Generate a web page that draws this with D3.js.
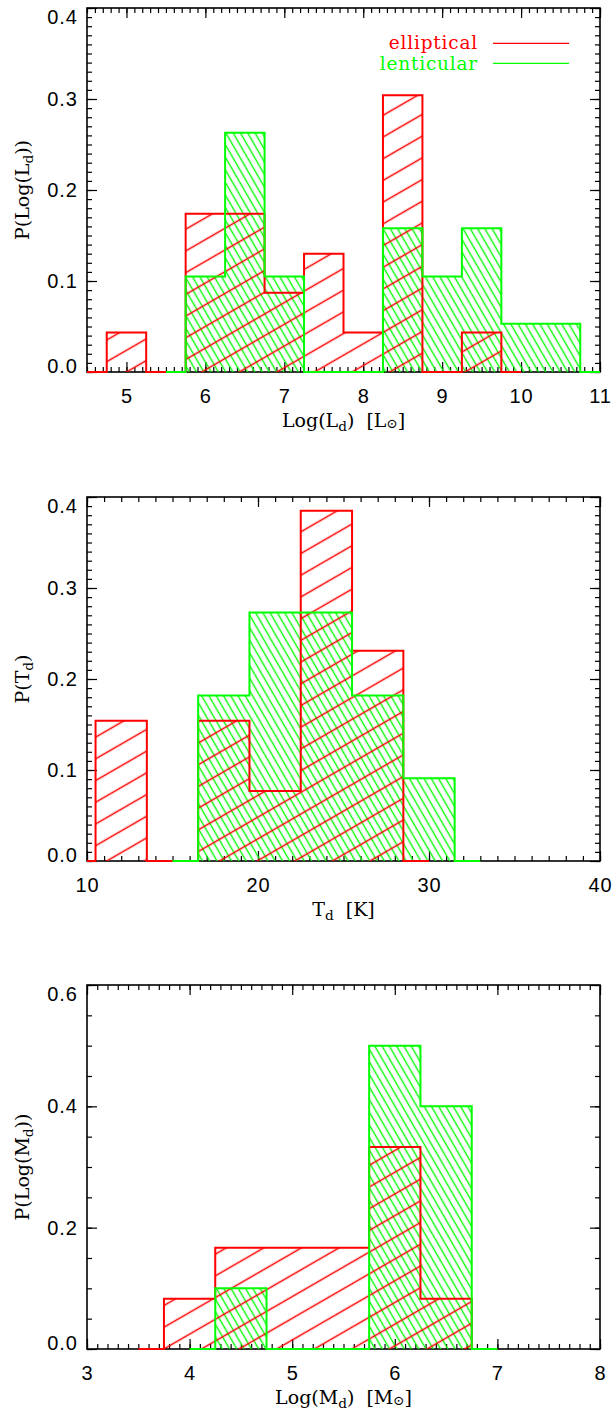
<!DOCTYPE html>
<html><head><meta charset="utf-8">
<script src="https://cdn.jsdelivr.net/npm/d3@7"></script>
<style>body{margin:0;background:#fff}svg{display:block}</style>
</head><body><div id="chart"></div>
<script>
// ---------- data (bin centres and probabilities) ----------
const ldEllipticalCenters = [4.5, 5.0, 5.5, 6.0, 6.5, 7.0, 7.5, 8.0, 8.5, 9.0, 9.5, 10.0];
const ldEllipticalValues  = [0, 0.0435, 0, 0.174, 0.174, 0.087, 0.130, 0.0435, 0.304, 0, 0.0435, 0];
const ldLenticularCenters = [5.5, 6.0, 6.5, 7.0, 7.5, 8.0, 8.5, 9.0, 9.5, 10.0, 10.5, 11.0];
const ldLenticularValues  = [0, 0.105, 0.263, 0.105, 0, 0, 0.158, 0.105, 0.158, 0.053, 0.053, 0];

const tdEllipticalCenters = [9, 12, 15, 18, 21, 24, 27, 30];
const tdEllipticalValues  = [0, 0.154, 0, 0.154, 0.077, 0.385, 0.231, 0];
const tdLenticularCenters = [15, 18, 21, 24, 27, 30, 33];
const tdLenticularValues  = [0, 0.182, 0.273, 0.273, 0.182, 0.091, 0];

const mdEllipticalCenters = [3.5, 4.0, 4.5, 5.0, 5.5, 6.0, 6.5, 7.0];
const mdEllipticalValues  = [0, 0.083, 0.167, 0.167, 0.167, 0.333, 0.083, 0];
const mdLenticularCenters = [4.0, 4.5, 5.0, 5.5, 6.0, 6.5, 7.0];
const mdLenticularValues  = [0, 0.1, 0, 0, 0.5, 0.4, 0];

const ldXTicks = [5, 6, 7, 8, 9, 10, 11];
const tdXTicks = [10, 20, 30, 40];
const mdXTicks = [3, 4, 5, 6, 7, 8];
const ldYTicks = [0, 0.1, 0.2, 0.3, 0.4];
const tdYTicks = [0, 0.1, 0.2, 0.3, 0.4];
const mdYTicks = [0, 0.2, 0.4, 0.6];

const legendLabels = ["elliptical", "lenticular"];

// ---------- layout ----------
const W = 614, H = 1414, L = 87, R = 600;
const RED = "#ff0000", GREEN = "#00ff00";
const SANS = "'Liberation Sans', Arial, sans-serif";
const SERIF = "'DejaVu Serif', serif";
const SP = "\u00a0\u00a0";

const svg = d3.select("#chart").append("svg").attr("width", W).attr("height", H)
  .style("background", "#fff");
const defs = svg.append("defs");

function hatch(id, color, angle, spacing, offset, sw) {
  const p = defs.append("pattern").attr("id", id)
    .attr("patternUnits", "userSpaceOnUse")
    .attr("width", 60).attr("height", spacing)
    .attr("patternTransform", `rotate(${angle})`);
  p.append("line").attr("x1", -5).attr("x2", 65)
    .attr("y1", offset).attr("y2", offset)
    .attr("stroke", color).attr("stroke-width", sw);
}
hatch("hRed", RED, -30, 18.8, 9.4, 1.3);
hatch("hGreen", GREEN, 60, 6.3, 3.15, 1.2);

const panels = [
  { top: 8, bottom: 372, xDomain: [4.5, 11], xTicks: ldXTicks, xMinor: 0.1,
    yDomain: [0, 0.4], yTicks: ldYTicks, yMinor: 0.01,
    ell: [ldEllipticalCenters, ldEllipticalValues], len: [ldLenticularCenters, ldLenticularValues],
    xTitle: [["Log(L",0],["d",1],[")" + SP + "[L",0],["\u2299",2],["]",0]],
    yTitle: [["P(Log(L",0],["d",1],["))",0]], legend: true },
  { top: 497, bottom: 861, xDomain: [10, 40], xTicks: tdXTicks, xMinor: 1,
    yDomain: [0, 0.4], yTicks: tdYTicks, yMinor: 0.01,
    ell: [tdEllipticalCenters, tdEllipticalValues], len: [tdLenticularCenters, tdLenticularValues],
    xTitle: [["T",0],["d",1],[SP + "[K]",0]],
    yTitle: [["P(T",0],["d",1],[")",0]] },
  { top: 985, bottom: 1349, xDomain: [3, 8], xTicks: mdXTicks, xMinor: 0.1,
    yDomain: [0, 0.6], yTicks: mdYTicks, yMinor: 0.05,
    ell: [mdEllipticalCenters, mdEllipticalValues], len: [mdLenticularCenters, mdLenticularValues],
    xTitle: [["Log(M",0],["d",1],[")" + SP + "[M",0],["\u2299",2],["]",0]],
    yTitle: [["P(Log(M",0],["d",1],["))",0]] }
];

function rangeStep(d0, d1, step) {
  const n = Math.round((d1 - d0) / step);
  return d3.range(n + 1).map(i => d0 + i * step);
}

function addRich(textSel, parts, size) {
  let shift = 0;
  parts.forEach(([t, kind]) => {
    const target = kind === 1 ? 0.22 * size : kind === 2 ? 0.05 * size : 0;
    const ts = textSel.append("tspan").text(t).attr("dy", target - shift);
    if (kind === 1) ts.attr("font-size", size * 0.72);
    if (kind === 2) ts.attr("font-size", size * 0.7);
    shift = target;
  });
}

// IDL psym=10 style step outline
function stepPoints(x, y, cs, vs) {
  const pts = [];
  const n = cs.length;
  for (let i = 0; i < n; i++) {
    const a = i === 0 ? cs[0] : (cs[i - 1] + cs[i]) / 2;
    const b = i === n - 1 ? cs[n - 1] : (cs[i] + cs[i + 1]) / 2;
    pts.push([x(a), y(vs[i])], [x(b), y(vs[i])]);
  }
  return pts;
}

panels.forEach((p, pi) => {
  const x = d3.scaleLinear().domain(p.xDomain).range([L, R]);
  const y = d3.scaleLinear().domain(p.yDomain).range([p.bottom, p.top]);
  const g = svg.append("g");

  const clipId = "clip" + pi;
  defs.append("clipPath").attr("id", clipId).append("rect")
    .attr("x", L).attr("y", p.top - 3).attr("width", R - L + 1).attr("height", p.bottom - p.top + 6);

  // minor ticks
  const xm = rangeStep(p.xDomain[0], p.xDomain[1], p.xMinor);
  const ym = rangeStep(p.yDomain[0], p.yDomain[1], p.yMinor);
  const styleAxis = s => { s.select(".domain").remove(); s.selectAll(".tick line").attr("stroke", "#000").attr("stroke-width", 1.2); };
  g.append("g").attr("transform", `translate(0,${p.bottom})`)
    .call(d3.axisBottom(x).tickValues(xm).tickSizeInner(-5).tickSizeOuter(0).tickFormat("")).call(styleAxis);
  g.append("g").attr("transform", `translate(0,${p.top})`)
    .call(d3.axisTop(x).tickValues(xm).tickSizeInner(-5).tickSizeOuter(0).tickFormat("")).call(styleAxis);
  g.append("g").attr("transform", `translate(${L},0)`)
    .call(d3.axisLeft(y).tickValues(ym).tickSizeInner(-5).tickSizeOuter(0).tickFormat("")).call(styleAxis);
  g.append("g").attr("transform", `translate(${R},0)`)
    .call(d3.axisRight(y).tickValues(ym).tickSizeInner(-5).tickSizeOuter(0).tickFormat("")).call(styleAxis);

  // major ticks + labels
  const bx = g.append("g").attr("transform", `translate(0,${p.bottom})`)
    .call(d3.axisBottom(x).tickValues(p.xTicks).tickSizeInner(-10).tickSizeOuter(0).tickPadding(17).tickFormat(d3.format("d")))
    .call(styleAxis);
  bx.selectAll(".tick text").attr("font-family", SANS).attr("font-size", 20).attr("fill", "#000").attr("letter-spacing", 1);
  g.append("g").attr("transform", `translate(0,${p.top})`)
    .call(d3.axisTop(x).tickValues(p.xTicks).tickSizeInner(-10).tickSizeOuter(0).tickFormat("")).call(styleAxis);
  const ly = g.append("g").attr("transform", `translate(${L},0)`)
    .call(d3.axisLeft(y).tickValues(p.yTicks).tickSizeInner(-10).tickSizeOuter(0).tickPadding(9).tickFormat(d3.format(".1f")))
    .call(styleAxis);
  ly.selectAll(".tick text").attr("font-family", SANS).attr("font-size", 20).attr("fill", "#000").attr("letter-spacing", 1)
    .attr("transform", d => {
      const yy = y(d);
      const c = Math.max(p.top + 9, Math.min(p.bottom - 6, yy));
      return `translate(0,${c - yy})`;
    });
  g.append("g").attr("transform", `translate(${R},0)`)
    .call(d3.axisRight(y).tickValues(p.yTicks).tickSizeInner(-10).tickSizeOuter(0).tickFormat("")).call(styleAxis);

  // box
  g.append("rect").attr("x", L).attr("y", p.top).attr("width", R - L).attr("height", p.bottom - p.top)
    .attr("fill", "none").attr("stroke", "#000").attr("stroke-width", 1.6);

  // histograms
  const hg = g.append("g").attr("clip-path", `url(#${clipId})`);
  const ellPts = stepPoints(x, y, p.ell[0], p.ell[1]);
  const lenPts = stepPoints(x, y, p.len[0], p.len[1]);
  const closed = pts => d3.line()(pts.concat([[pts[pts.length - 1][0], y(0)], [pts[0][0], y(0)]])) + "Z";
  hg.append("path").attr("d", closed(lenPts)).attr("fill", "url(#hGreen)").attr("stroke", "none");
  hg.append("path").attr("d", closed(ellPts)).attr("fill", "url(#hRed)").attr("stroke", "none");
  hg.append("path").attr("d", d3.line()(ellPts)).attr("fill", "none").attr("stroke", RED).attr("stroke-width", 2);
  hg.append("path").attr("d", d3.line()(lenPts)).attr("fill", "none").attr("stroke", GREEN).attr("stroke-width", 2);

  // titles
  const xt = g.append("text").attr("x", (L + R) / 2).attr("y", p.bottom + 55)
    .attr("text-anchor", "middle").attr("font-family", SERIF).attr("font-size", 19).attr("fill", "#000");
  addRich(xt, p.xTitle, 19);
  const yt = g.append("text").attr("transform", `translate(29,${(p.top + p.bottom) / 2}) rotate(-90)`)
    .attr("text-anchor", "middle").attr("font-family", SERIF).attr("font-size", 19).attr("fill", "#000");
  addRich(yt, p.yTitle, 19);

  if (p.legend) {
    const colors = [RED, GREEN];
    legendLabels.forEach((lab, i) => {
      g.append("text").attr("x", 478).attr("y", 48.5 + i * 21).attr("text-anchor", "end")
        .attr("font-family", SERIF).attr("font-size", 18.5).attr("letter-spacing", 0.8)
        .attr("fill", colors[i]).text(lab);
      g.append("line").attr("x1", 493).attr("x2", 569).attr("y1", 43.3 + i * 20).attr("y2", 43.3 + i * 20)
        .attr("stroke", colors[i]).attr("stroke-width", 1.2);
    });
  }
});
</script>
</body></html>
